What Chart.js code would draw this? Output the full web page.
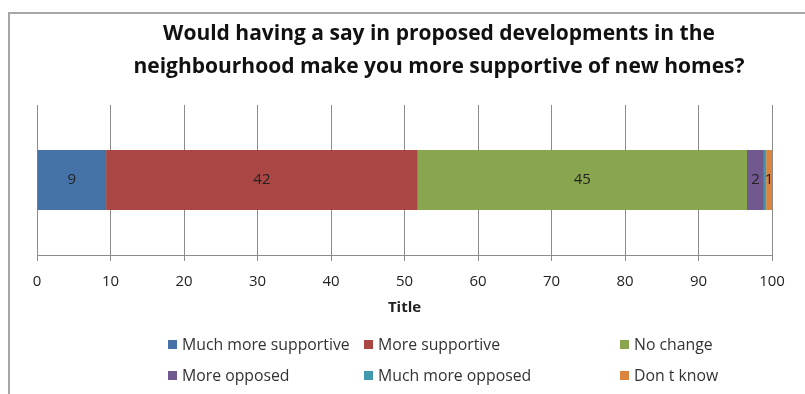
<!DOCTYPE html>
<html>
<head>
<meta charset="utf-8">
<script src="https://cdn.jsdelivr.net/npm/chart.js@4/dist/chart.umd.min.js"></script>
<style>
  body { margin: 0; background: #fff; font-family: "Open Sans", sans-serif; }
  #wrap { position: relative; width: 805px; height: 394px; overflow: hidden; }
  #frame { position: absolute; left: 8px; top: 12px; width: 820px; height: 400px;
           border-left: 2px solid #a6a6a6; border-top: 2px solid #a6a6a6; }
  #chart { position: absolute; left: 0; top: 0; }
  #title { position: absolute; left: 0; width: 878px; top: 16px; text-align: center;
           font-weight: bold; font-size: 21px; line-height: 33px; color: #111; }
  #legend { position: absolute; left: 0; top: 0; font-size: 15.8px; color: #333; }
  #legend .item { position: absolute; white-space: nowrap; line-height: 20px; }
  #legend .box { display: inline-block; width: 9px; height: 9px; margin-right: 5px; vertical-align: 1px; }
</style>
</head>
<body>
<div id="wrap">
  <div id="frame"></div>
  <canvas id="chart" width="805" height="394"></canvas>
  <div id="title">Would having a say in proposed developments in the<br>neighbourhood make you more supportive of new homes?</div>
  <div id="legend"></div>
</div>
<script>
// response shares (percent of respondents)
var answers = ['Much more supportive', 'More supportive', 'No change', 'More opposed', 'Much more opposed', 'Don t know'];
var shares = [9.4, 42.4, 44.8, 2.3, 0.3, 0.8];
var colours = ['#4572A7', '#AA4643', '#89A54E', '#71588F', '#4198AF', '#DB843D'];
var xTicks = [0, 10, 20, 30, 40, 50, 60, 70, 80, 90, 100];

var datasets = [];
for (var i = 0; i < answers.length; i++) {
    datasets.push({
        label: answers[i],
        data: [shares[i]],
        backgroundColor: colours[i],
        borderWidth: 0,
        barPercentage: 0.4,
        categoryPercentage: 1
    });
}

// value in the middle of each segment, hidden when it rounds to 0
var barLabels = {
    id: 'barLabels',
    afterDatasetsDraw: function(chart) {
        var ctx = chart.ctx;
        ctx.save();
        ctx.font = '15px "Open Sans"';
        ctx.fillStyle = '#222';
        ctx.textAlign = 'center';
        ctx.textBaseline = 'middle';
        chart.data.datasets.forEach(function(ds, i) {
            var v = Math.round(ds.data[0]);
            if (v < 1) return;
            var bar = chart.getDatasetMeta(i).data[0];
            ctx.fillText(v, (bar.x + bar.base) / 2, bar.y);
        });
        ctx.restore();
    }
};

var chart = new Chart(document.getElementById('chart'), {
    type: 'bar',
    data: { labels: [''], datasets: datasets },
    options: {
        indexAxis: 'y',
        responsive: false,
        animation: false,
        layout: { padding: { top: 105, left: 37, right: 33, bottom: 73 } },
        scales: {
            x: {
                stacked: true,
                min: 0,
                max: 100,
                afterBuildTicks: function(axis) {
                    axis.ticks = xTicks.map(function(v) { return { value: v }; });
                },
                grid: { color: '#8c8c8c', lineWidth: 1, tickLength: 6 },
                border: { color: '#8c8c8c' },
                ticks: { color: '#222', font: { family: 'Open Sans', size: 15 }, padding: 12, maxRotation: 0 },
                title: { display: true, text: 'Title', color: '#222', font: { family: 'Open Sans', size: 15, weight: 'bold' }, padding: { top: -4 } }
            },
            y: {
                stacked: true,
                display: false
            }
        },
        plugins: {
            legend: { display: false },
            tooltip: { enabled: false }
        }
    },
    plugins: [barLabels]
});

// legend in three columns, two rows
var legendX = [168, 364, 620];
var legendY = [334, 365];
var legendHtml = '';
chart.data.datasets.forEach(function(ds, i) {
    legendHtml += '<div class="item" style="left:' + legendX[i % 3] + 'px;top:' + legendY[Math.floor(i / 3)] + 'px">'
        + '<span class="box" style="background:' + ds.backgroundColor + '"></span>' + ds.label + '</div>';
});
document.getElementById('legend').innerHTML = legendHtml;
</script>
</body>
</html>
